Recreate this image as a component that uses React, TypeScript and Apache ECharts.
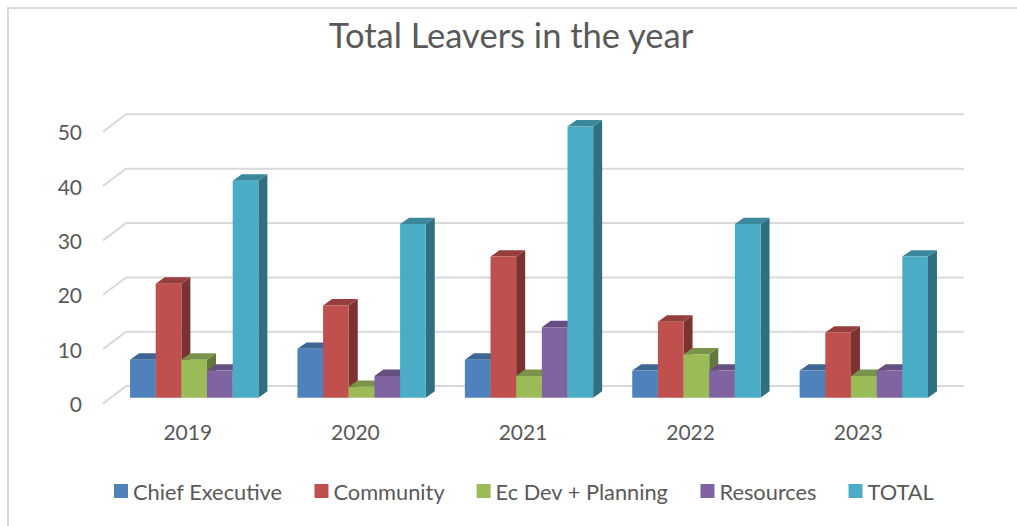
import React, { useEffect, useRef } from "react";
import * as echarts from "echarts";

const years = ["2019", "2020", "2021", "2022", "2023"];
const chiefExecutive = [7, 9, 7, 5, 5];
const community = [21, 17, 26, 14, 12];
const ecDevPlanning = [7, 2, 4, 8, 4];
const resources = [5, 4, 13, 5, 5];
const total = [40, 32, 50, 32, 26];
const yTicks = [0, 10, 20, 30, 40, 50];

const seriesNames = ["Chief Executive", "Community", "Ec Dev + Planning", "Resources", "TOTAL"];
const seriesValues = [chiefExecutive, community, ecDevPlanning, resources, total];
const frontColors = ["#4F81BD", "#C0504D", "#9BBB59", "#8064A2", "#4BACC6"];
const topColors = ["#3E6795", "#953E3B", "#79934A", "#654F80", "#3B889C"];
const sideColors = ["#335379", "#7A3331", "#62773A", "#523F68", "#2F6F80"];

const TEXT = "#595959";
const FONT = "Lato, 'Noto Sans', sans-serif";
const DEPTH_X = 9;
const DEPTH_Y = 6.4;
const WALL_X = 23;
const WALL_Y = 17.4;

// One 3D column: front face, top face and right-hand side face.
function columnRenderer(seriesIndex: number) {
  return (_params: any, api: any) => {
    const idx = api.value(0);
    const band = api.size([1, 0])[0];
    const w = band * 0.1533;
    const [cx, y0] = api.coord([idx, 0]);
    const [, y1] = api.coord([idx, api.value(1)]);
    const x = cx + (seriesIndex - 2.5) * w;
    const dx = DEPTH_X;
    const dy = DEPTH_Y;
    return {
      type: "group",
      children: [
        {
          type: "polygon",
          shape: { points: [[x + w, y1], [x + w + dx, y1 - dy], [x + w + dx, y0 - dy], [x + w, y0]] },
          style: { fill: sideColors[seriesIndex] },
        },
        {
          type: "polygon",
          shape: { points: [[x, y1], [x + dx, y1 - dy], [x + w + dx, y1 - dy], [x + w, y1]] },
          style: { fill: topColors[seriesIndex] },
        },
        {
          type: "rect",
          shape: { x, y: y1, width: w, height: y0 - y1 },
          style: { fill: frontColors[seriesIndex] },
        },
      ],
    };
  };
}

// Gridline running up the side wall and along the back wall.
function wallLine(params: any, api: any) {
  const sys = params.coordSys;
  const [, y] = api.coord([0, api.value(0)]);
  return {
    type: "polyline",
    shape: {
      points: [
        [sys.x, y],
        [sys.x + WALL_X, y - WALL_Y],
        [sys.x + WALL_X + sys.width, y - WALL_Y],
      ],
    },
    style: { fill: "none", stroke: "#D9D9D9", lineWidth: 2 },
  };
}

export default function App() {
  const ref = useRef<HTMLDivElement>(null);

  useEffect(() => {
    const chart = echarts.init(ref.current!, undefined, { renderer: "svg" });
    chart.setOption({
      animation: false,
      backgroundColor: "#FFFFFF",
      title: {
        text: "Total Leavers in the year",
        left: 506,
        top: 12,
        textAlign: "center",
        textStyle: { color: TEXT, fontFamily: FONT, fontSize: 34.5, fontWeight: "normal" },
      },
      graphic: [
        {
          type: "polyline",
          shape: { points: [[8, 526], [8, 8], [1017, 8]] },
          style: { fill: "none", stroke: "#D9D9D9", lineWidth: 2 },
        },
      ],
      legend: {
        data: seriesNames,
        icon: "rect",
        left: 109,
        top: 475,
        itemWidth: 14,
        itemHeight: 14,
        itemGap: 32,
        textStyle: { color: TEXT, fontFamily: FONT, fontSize: 21.8 },
      },
      grid: [
        // Floor-front plane: carries the axis labels and the wall gridlines.
        { left: 103, top: 131.7, width: 838, height: 271.8 },
        // Plane of the columns' front faces, set back from the floor edge.
        { left: 110.5, top: 126.4, width: 837, height: 271.3 },
      ],
      xAxis: [
        {
          type: "category",
          gridIndex: 0,
          data: years,
          axisLine: { show: false },
          axisTick: { show: false },
          axisLabel: { color: TEXT, fontFamily: FONT, fontSize: 21, margin: 17, padding: [0, 0, 0, 2] },
        },
        { type: "category", gridIndex: 1, data: years, show: false },
      ],
      yAxis: [
        {
          type: "value",
          gridIndex: 0,
          min: 0,
          max: 50,
          interval: 10,
          axisLine: { show: false },
          axisTick: { show: false },
          splitLine: { show: false },
          axisLabel: { color: TEXT, fontFamily: FONT, fontSize: 21, margin: 21 },
        },
        { type: "value", gridIndex: 1, min: 0, max: 50, interval: 10, show: false },
      ],
      series: [
        {
          type: "custom",
          xAxisIndex: 0,
          yAxisIndex: 0,
          silent: true,
          z: 1,
          data: yTicks.map((t) => [t]),
          encode: { y: 0 },
          renderItem: wallLine,
        },
        ...seriesNames.map((name, i) => ({
          type: "custom",
          name,
          xAxisIndex: 1,
          yAxisIndex: 1,
          z: 2 + i,
          itemStyle: { color: frontColors[i] },
          data: seriesValues[i].map((v, c) => [c, v]),
          encode: { x: 0, y: 1 },
          renderItem: columnRenderer(i),
        })),
      ],
    });
    return () => chart.dispose();
  }, []);

  return <div ref={ref} style={{ position: "fixed", left: 0, top: 0, width: 1017, height: 526 }} />;
}
